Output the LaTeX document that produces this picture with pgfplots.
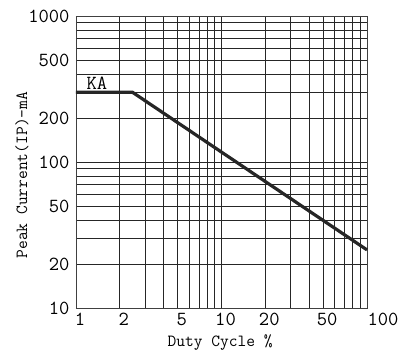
\documentclass[border=0pt]{standalone}
\usepackage{fontspec}
\usepackage{pgfplots}
\pgfplotsset{compat=1.18}
\begin{document}
\begin{tikzpicture}
\begin{axis}[
  xmode=log, ymode=log,
  scale only axis, width=291pt, height=292pt,
  xmin=1, xmax=100, ymin=10, ymax=1000,
  xtick={1,2,5,10,20,50,100},
  xticklabels={1,2,5,10,20,50,\hspace*{24pt}100},
  ytick={10,20,50,100,200,500,1000},
  yticklabels={10,20,50,100,200,500,1000},
  minor xtick={3,4,6,7,8,9,30,40,60,70,80,90},
  minor ytick={30,40,60,70,80,90,300,400,600,700,800,900},
  grid=both,
  major grid style={black!85, line width=0.9pt},
  minor grid style={black!85, line width=0.9pt},
  axis line style={black!75, line width=0.9pt},
  major tick length=0pt, minor tick length=0pt,
  ticklabel style={font=\ttfamily\fontsize{20}{20}\selectfont},
  xticklabel style={xshift=4pt, yshift=-2pt},
  yticklabel style={xshift=-3pt},
  xlabel={Duty Cycle \%},
  ylabel={Peak Current(IP)-mA},
  label style={font=\ttfamily\fontsize{17}{17}\selectfont},
  xlabel style={at={(axis description cs:0.495,-0.118)}, anchor=center},
  ylabel style={at={(axis description cs:-0.186,0.455)}, anchor=center, rotate=0},
  clip=false,
]
\addplot[color=black!85, line width=3.2pt] coordinates {(1,300) (2.45,300) (100,25)};
\node[anchor=base, font=\ttfamily\fontsize{20}{20}\selectfont] at (rel axis cs:0.072,0.747) {KA};
\coordinate (bl) at (rel axis cs:0,0);
\end{axis}
\pgfresetboundingbox
\path (bl) ++(-76pt,-46pt) rectangle ++(401pt,354pt);
\end{tikzpicture}
\end{document}
